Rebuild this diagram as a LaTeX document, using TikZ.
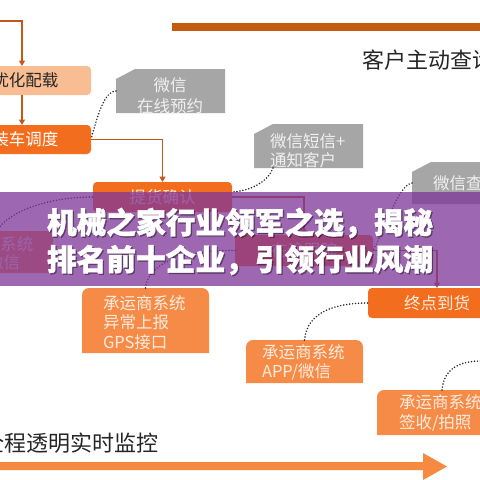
\documentclass[tikz,border=0pt]{standalone}
\usepackage{fontspec}
\newfontfamily\cjk{Noto Sans CJK SC}
\newfontfamily\cjkt[BoldFeatures={FakeBold=1.3}]{Noto Sans CJK SC}
\usetikzlibrary{arrows.meta,calc}
\definecolor{connbrown}{HTML}{C4581A}
\definecolor{peach}{HTML}{F9BD93}
\definecolor{dorange}{HTML}{F26E1E}
\definecolor{lorange}{HTML}{F68B47}
\definecolor{greyb}{HTML}{A6A6A6}
\definecolor{bannerc}{HTML}{7E3599}
\definecolor{barbrown}{HTML}{C55A11}
\definecolor{arrowor}{HTML}{F58A40}
\definecolor{ltxt}{HTML}{FDECDF}
\definecolor{dtxt}{HTML}{262626}
\newcommand\toproundbox[2]{\fill[#2] (#1.south west) [rounded corners=7pt] -- (#1.north west) -- (#1.north east) [sharp corners] -- (#1.south east) -- cycle;}
\newcommand\chamferbox[1]{\fill[greyb] ($(#1.north west)+(19,0)$) -- (#1.north east) -- (#1.south east) -- (#1.south west) -- ($(#1.north west)+(0,10)$) -- cycle;}
\begin{document}
\begin{tikzpicture}[x=1pt,y=-1pt,
  every node/.style={inner sep=0pt, outer sep=0pt},
  conn/.style={draw=connbrown, line width=1.6pt, -{Triangle[length=5.5pt,width=6pt]}},
  dotc/.style={draw=black!85, line width=1.7pt, line cap=round, dash pattern=on 0pt off 3pt},
  fbox/.style={rounded corners=4pt, font=\cjk\fontsize{16.5}{19}\selectfont},
  btxt/.style={text=ltxt, align=left, anchor=west},
  gtxt/.style={text=white!94!black},
  ttl/.style={font=\cjkt\bfseries\fontsize{29.7}{36}\selectfont, text=white},
  bigtxt/.style={font=\cjk\fontsize{22}{26}\selectfont, text=dtxt, anchor=west}
]
\useasboundingbox (0,0) rectangle (480,480);
\begin{scope}
\clip (0,0) rectangle (480,480);
\fill[white] (0,0) rectangle (480,480);

% top bar and heading
\fill[barbrown] (172,23) rectangle (480,31);
\node[bigtxt] (head) at (362,60) {客户主动查询};

% main flow boxes
\node[fbox, fill=peach, text=dtxt, minimum width=131pt, minimum height=29pt] (b1) at (25.5,80.5) {优化配载};
\node[fbox, fill=dorange, text=white, minimum width=131pt, minimum height=29pt] (b2) at (25.5,139.5) {装车调度};
\node[fbox, fill=dorange, text=ltxt, minimum width=139pt, minimum height=30pt] (b3) at (162.5,197) {提货确认};
\node[fbox, fill=dorange, text=ltxt, minimum width=138pt, minimum height=31pt] (b4) at (304,250.5) {在途跟踪};
\node[fbox, fill=dorange, text=ltxt, minimum width=138pt, minimum height=30pt] (b5) at (437,303) {终点到货};

% grey chamfered boxes
\node[minimum width=109pt, minimum height=44pt] (g1) at (170.5,91) {};
\node[minimum width=109pt, minimum height=44pt] (g2) at (308.5,146) {};
\node[minimum width=88pt, minimum height=42pt] (g3) at (456,183) {};
\chamferbox{g1}
\chamferbox{g2}
\chamferbox{g3}
\node[gtxt, align=center, font=\cjk\fontsize{16.5}{21}\selectfont] (g1t) at (170,95.5) {微信\\在线预约};
\node[gtxt, align=left, anchor=west, font=\cjk\fontsize{16.5}{18.5}\selectfont] (g2t) at (270,151) {微信短信+\\通知客户};
\node[gtxt, anchor=west, font=\cjk\fontsize{16.5}{19}\selectfont] (g3t) at (433,183) {微信查询};

% light orange carrier boxes
\node[minimum width=113pt, minimum height=42pt] (lb) at (-3.5,252) {};
\node[minimum width=127pt, minimum height=65pt] (gps) at (145.5,320.5) {};
\node[minimum width=117pt, minimum height=43pt] (app) at (304.5,361.5) {};
\node[minimum width=123pt, minimum height=45pt] (qs) at (438.5,412.5) {};
\toproundbox{lb}{lorange}
\toproundbox{gps}{lorange}
\toproundbox{app}{lorange}
\toproundbox{qs}{lorange}
\node[btxt, font=\cjk\fontsize{16.5}{18}\selectfont] (lbt) at (-49,254) {承运商系统\\APP/微信};
\node[btxt, font=\cjk\fontsize{16.5}{19.5}\selectfont] (gpst) at (103,322.5) {承运商系统\\异常上报\\GPS接口};
\node[btxt, font=\cjk\fontsize{16.5}{19}\selectfont] (appt) at (262,362.5) {承运商系统\\APP/微信};
\node[btxt, font=\cjk\fontsize{16.5}{20}\selectfont] (qst) at (399,413) {承运商系统\\签收/拍照};

% flow connectors
\coordinate (vx) at (22,0);
\coordinate (st) at (0,21);
\draw[conn] (st) -| (b1.north -| vx);
\draw[conn] (b1.south -| vx) -- (b2.north -| vx);
\draw[conn] (b2.east) -| (b3.north);
\draw[conn] (b3.east) -| (b4.north);
\draw[conn] (b4.east) -| (b5.north);

% dotted links
\coordinate (offr) at (482,361);
\draw[dotc] (g1.west) .. controls (106,91) and (99,109) .. (b2.east);
\draw[dotc] ($(g2.south west)+(19,0)$) .. controls (268,182) and (250,191) .. ($(b3.east)+(0,-5)$);
\draw[dotc] (lb.north) .. controls (10,210) and (50,197) .. (b3.west);
\draw[dotc] (gps.north) .. controls (148,262) and (185,250) .. (b4.west);
\draw[dotc] (g3.west) .. controls (398,186) and (388,222) .. (b4.east);
\draw[dotc] (app.north) .. controls (307,312) and (335,303) .. (b5.west);
\draw[dotc] ($(qs.north west)+(65,0)$) .. controls (444,368) and (460,361) .. (offr);

% bottom label and arrow
\node[bigtxt] (foot) at (-17,443) {全程透明实时监控};
\fill[arrowor] (0,462) -- (423,462) -- (423,453) -- (447,466.5) -- (423,480) -- (423,470) -- (0,470) -- cycle;

% banner overlay
\fill[bannerc, opacity=0.75] (0,192) rectangle (480,286);
\node[ttl, text=black, opacity=0.35] at (241.3,224.3) {机械之家行业领军之选，揭秘};
\node[ttl, text=black, opacity=0.35] at (241.3,261.3) {排名前十企业，引领行业风潮};
\node[ttl] (t1) at (240,223) {机械之家行业领军之选，揭秘};
\node[ttl] (t2) at (240,260) {排名前十企业，引领行业风潮};
\end{scope}
\end{tikzpicture}
\end{document}
